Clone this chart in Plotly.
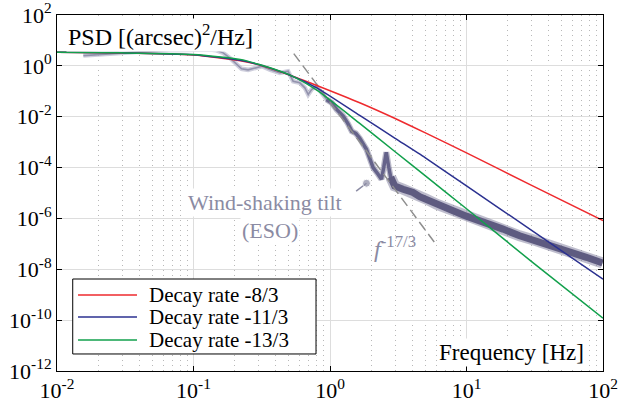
import plotly.graph_objects as go

# ---------------- data ----------------
freq_model = [0.01, 0.03, 0.1, 0.22, 0.3, 0.51, 0.8, 1.65, 3, 5, 10, 30, 100]
psd_m8_3 = [3.4, 3.2, 2.65, 1.6, 1.1, 0.43, 0.169, 0.0354, 8.5e-3, 2.3e-3, 3.8e-4, 2.0e-5, 8.3e-7]
psd_m11_3 = [3.4, 3.25, 2.75, 1.65, 1.12, 0.43, 0.137, 0.01125, 1.41e-3, 2.4e-4, 1.9e-5, 3.4e-7, 4.1e-9]
psd_m13_3 = [3.4, 3.25, 2.8, 1.8, 1.15, 0.43, 0.11, 5.46e-3, 4.2e-4, 4.7e-5, 2.4e-6, 2.0e-8, 1.2e-10]

wind_f = [0.0156, 0.0244, 0.0429, 0.0671, 0.0995, 0.1318, 0.1475, 0.1649, 0.1845, 0.207,
          0.225, 0.251, 0.290, 0.317, 0.362, 0.429, 0.493, 0.537, 0.601, 0.654,
          0.692, 0.733, 0.797, 0.867, 0.944, 1.028, 1.119, 1.248, 1.35, 1.445,
          1.546, 1.653, 1.849, 1.955, 2.069, 2.25, 2.383, 2.477, 2.583, 2.694,
          2.786, 2.98, 3.43, 4.06, 4.54, 5.09, 6.03, 7.13, 7.97, 9.98,
          14.0, 18.5, 24.5, 32.5, 43.0, 57.0, 75.5, 99.3]
wind_psd = [2.53, 3.04, 3.64, 4.09, 4.36, 4.36, 4.09, 3.24, 2.06, 1.12,
            0.763, 0.697, 0.857, 0.964, 0.716, 0.531, 0.614, 0.249, 0.215, 0.137,
            0.0749, 0.118, 0.158, 0.0873, 0.0477, 0.0354, 0.0193, 0.0106, 5.46e-3, 2.65e-3,
            2.21e-3, 1.41e-3, 5.22e-4, 2.12e-4, 1.0e-4, 5.46e-5, 3.48e-5, 1.03e-4, 3.98e-4, 1.03e-4,
            4.17e-5, 1.90e-5, 1.41e-5, 1.05e-5, 7.16e-6, 5.71e-6, 3.64e-6, 2.54e-6, 2.02e-6, 1.23e-6,
            6.97e-7, 3.8e-7, 2.08e-7, 1.32e-7, 8.42e-8, 4.65e-8, 2.96e-8, 1.77e-8]

slope_f = [0.543, 6.02]
slope_psd = [3.04, 9.1e-8]

pointer_f = [1.555, 1.85]
pointer_psd = [1.18e-5, 2.42e-5]

x_ticks = [1e-2, 1e-1, 1e0, 1e1, 1e2]
x_ticktext = ["10<sup>-2</sup>", "10<sup>-1</sup>", "10<sup>0</sup>", "10<sup>1</sup>", "10<sup>2</sup>"]
y_ticks = [1e2, 1e0, 1e-2, 1e-4, 1e-6, 1e-8, 1e-10, 1e-12]
y_ticktext = ["10<sup>2</sup>", "10<sup>0</sup>", "10<sup>-2</sup>", "10<sup>-4</sup>",
              "10<sup>-6</sup>", "10<sup>-8</sup>", "10<sup>-10</sup>", "10<sup>-12</sup>"]

series_names = ["Decay rate -8/3", "Decay rate -11/3", "Decay rate -13/3"]
series_colors = ["#ee2a2e", "#2b3190", "#12a04c"]

FONT = "Liberation Serif"
GRAY_TXT = "#8b8ba3"

fig = go.Figure()

# ---- wind-shaking data, split into thin / medium / thick parts ----
def seg(lo, hi):
    fs, ps = [], []
    for f, p in zip(wind_f, wind_psd):
        if lo <= f <= hi:
            fs.append(f)
            ps.append(p)
    return fs, ps

f1, p1 = seg(0, 1.13)
f2, p2 = seg(0.94, 3.0)
f3, p3 = seg(2.78, 1000)

fig.add_trace(go.Scatter(x=f1, y=p1, mode="lines", showlegend=False, hoverinfo="skip",
                         line=dict(color="rgba(185,185,205,0.7)", width=4.5)))
fig.add_trace(go.Scatter(x=f1, y=p1, mode="lines", showlegend=False, hoverinfo="skip",
                         line=dict(color="#9393ad", width=1.6)))
fig.add_trace(go.Scatter(x=f2, y=p2, mode="lines", showlegend=False, hoverinfo="skip",
                         line=dict(color="rgba(120,118,150,0.5)", width=6)))
fig.add_trace(go.Scatter(x=f2, y=p2, mode="lines", showlegend=False, hoverinfo="skip",
                         line=dict(color="#65638a", width=3.5)))
fig.add_trace(go.Scatter(x=f3, y=p3, mode="lines", showlegend=False, hoverinfo="skip",
                         line=dict(color="rgba(110,108,145,0.45)", width=11)))
fig.add_trace(go.Scatter(x=f3, y=p3, mode="lines", showlegend=False, hoverinfo="skip",
                         line=dict(color="#5e5b80", width=7)))

# ---- f^-17/3 dashed guide ----
fig.add_trace(go.Scatter(x=slope_f, y=slope_psd, mode="lines", showlegend=False, hoverinfo="skip",
                         line=dict(color="#8e8e8e", width=1.5, dash="10px,5px")))

# ---- pointer from label to data ----
fig.add_trace(go.Scatter(x=pointer_f, y=pointer_psd, mode="lines+markers", showlegend=False,
                         hoverinfo="skip", line=dict(color=GRAY_TXT, width=1.5),
                         marker=dict(size=[0, 8], color=GRAY_TXT)))

# ---- model lines ----
for name, ys, col in zip(series_names, [psd_m8_3, psd_m11_3, psd_m13_3], series_colors):
    fig.add_trace(go.Scatter(x=freq_model, y=ys, mode="lines", name=name, showlegend=False,
                             line=dict(color=col, width=1.5, shape="spline", smoothing=0.6)))

axis_common = dict(
    type="log", showline=True, linecolor="black", linewidth=1, mirror="ticks",
    ticks="inside", ticklen=5, tickcolor="black", zeroline=False, automargin=False,
    showgrid=True, gridcolor="#dddddd", gridwidth=1.2, ticklabeloverflow="allow",
    tickfont=dict(family=FONT, size=22, color="black"),
)

fig.update_xaxes(**axis_common, range=[-2, 2], tickvals=x_ticks, ticktext=x_ticktext,
                 minor=dict(dtick="D1", showgrid=True, gridcolor="#b8b8b8", gridwidth=1,
                            griddash="1px,4px", ticks=""))
fig.update_yaxes(**axis_common, range=[-12, 2], tickvals=y_ticks, ticktext=y_ticktext)

annos = [
    dict(text="PSD [(arcsec)<sup>2</sup>/Hz]", xref="paper", yref="paper", x=0.016, y=0.944,
         xanchor="left", yanchor="middle", showarrow=False, bgcolor="white",
         font=dict(family=FONT, size=24, color="black")),
    dict(text="Frequency [Hz]", xref="paper", yref="paper", x=0.832, y=0.051,
         xanchor="center", yanchor="middle", showarrow=False, bgcolor="white",
         font=dict(family=FONT, size=23, color="black")),
    dict(text="Wind-shaking tilt", xref="x", yref="y", x=-0.477, y=-5.36,
         xanchor="center", yanchor="middle", showarrow=False, bgcolor="white",
         font=dict(family=FONT, size=22, color=GRAY_TXT)),
    dict(text="(ESO)", xref="x", yref="y", x=-0.441, y=-6.46,
         xanchor="center", yanchor="middle", showarrow=False, bgcolor="white",
         font=dict(family=FONT, size=22, color=GRAY_TXT)),
    dict(text="<i>f</i><sup>-17/3</sup>", xref="x", yref="y", x=0.474, y=-7.12,
         xanchor="center", yanchor="middle", showarrow=False,
         font=dict(family=FONT, size=24, color=GRAY_TXT)),
]

# ---- legend box drawn in paper coordinates ----
shapes = [dict(type="rect", xref="paper", yref="paper", x0=0.0288, x1=0.4744, y0=0.0478, y1=0.2584,
               fillcolor="white", line=dict(color="black", width=1), layer="above")]
legend_rows_y = [0.2135, 0.1517, 0.0871]
for name, col, ry in zip(series_names, series_colors, legend_rows_y):
    shapes.append(dict(type="line", xref="paper", yref="paper", x0=0.0385, x1=0.1465, y0=ry, y1=ry,
                       line=dict(color=col, width=1.5), layer="above"))
    annos.append(dict(text=name, xref="paper", yref="paper", x=0.1648, y=ry,
                      xanchor="left", yanchor="middle", showarrow=False,
                      font=dict(family=FONT, size=21, color="black")))

fig.update_layout(
    width=619, height=405,
    margin=dict(l=57, r=16, t=15, b=34, autoexpand=False),
    paper_bgcolor="white", plot_bgcolor="white",
    font=dict(family=FONT, color="black"),
    annotations=annos, shapes=shapes, showlegend=False,
)

fig.write_html("out.html", config={"displayModeBar": False},
               post_script="document.body.style.margin='0px';document.body.style.overflow='hidden';")
